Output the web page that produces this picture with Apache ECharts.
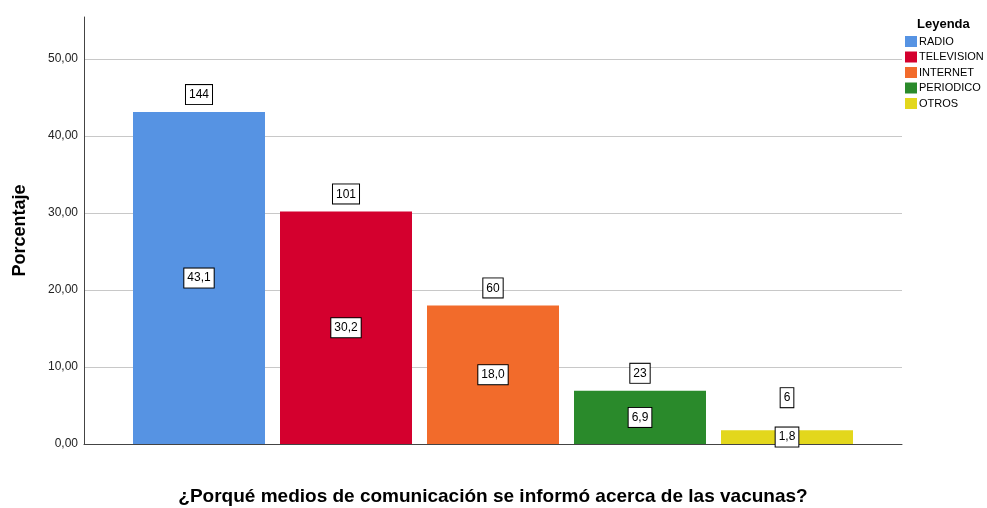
<!DOCTYPE html>
<html>
<head>
<meta charset="utf-8">
<script src="https://cdn.jsdelivr.net/npm/echarts@6/dist/echarts.min.js"></script>
<style>
html, body { margin: 0; padding: 0; background: #fff; }
#chart { width: 987px; height: 508px; }
</style>
</head>
<body>
<div id="chart"></div>
<script>
// datos
const categorias = ["RADIO", "TELEVISION", "INTERNET", "PERIODICO", "OTROS"];
const porcentajes = [43.1, 30.2, 18.0, 6.9, 1.8];
const conteos = [144, 101, 60, 23, 6];
const colores = ["#5693E3", "#D4002E", "#F26B2B", "#2A8A2B", "#E3D71C"];
const ticksY = [0, 10, 20, 30, 40, 50];

const FONT = "Liberation Sans, Arial, sans-serif";
const yMax = 55.45;

const cajaLabel = {
	show: true,
	color: "#000",
	fontFamily: FONT,
	fontSize: 12,
	backgroundColor: "#fff",
	borderColor: "#000",
	borderWidth: 1,
	padding: [4, 3, 3, 3]
};

const chart = echarts.init(document.getElementById("chart"), null, { renderer: "canvas" });

const seriesBarras = categorias.map((nombre, i) => ({
	name: nombre,
	type: "bar",
	xAxisIndex: 1,
	yAxisIndex: 1,
	stack: "total",
	barWidth: 132,
	itemStyle: { color: colores[i] },
	data: categorias.map((c, j) => (j === i ? porcentajes[i] : "-")),
	label: {
		...cajaLabel,
		position: "inside",
		formatter: p => p.value.toFixed(1).replace(".", ",")
	},
	emphasis: { disabled: true }
}));

// lineas de division: la ultima (en el maximo del eje) no se dibuja
const coloresGrid = ticksY.map(() => "#c8c8c8").concat(["rgba(0,0,0,0)"]);

const option = {
	animation: false,
	backgroundColor: "#fff",
	title: {
		text: "Leyenda",
		left: 917,
		top: 18,
		padding: 0,
		textStyle: { fontFamily: FONT, fontSize: 13, fontWeight: "bold", color: "#000" }
	},
	legend: {
		data: categorias,
		orient: "vertical",
		left: 905,
		top: 36,
		padding: 0,
		itemWidth: 12,
		itemHeight: 11,
		itemGap: 4.5,
		icon: "rect",
		textStyle: { fontFamily: FONT, fontSize: 11, color: "#000", padding: [0, 0, 0, -3] }
	},
	grid: [
		{ left: 84, right: 85, top: 17, bottom: 64, outerBoundsMode: "none", containLabel: false },
		{ left: 125.5, right: 126.5, top: 17, bottom: 64, outerBoundsMode: "none", containLabel: false }
	],
	xAxis: [
		{
			gridIndex: 0,
			type: "value",
			min: 0,
			max: 1,
			axisLine: { show: true, onZero: false, lineStyle: { color: "#444", width: 1 } },
			axisTick: { show: false },
			axisLabel: { show: false },
			splitLine: { show: false },
			name: "¿Porqué medios de comunicación se informó acerca de las vacunas?",
			nameLocation: "middle",
			nameGap: 43,
			nameTextStyle: { fontFamily: FONT, fontSize: 19, fontWeight: "bold", color: "#000" }
		},
		{
			gridIndex: 1,
			type: "category",
			data: categorias,
			show: false
		}
	],
	yAxis: [
		{
			gridIndex: 0,
			type: "value",
			min: 0,
			max: yMax,
			interval: 10,
			axisLine: { show: true, lineStyle: { color: "#444", width: 1 } },
			axisTick: { show: false },
			axisLabel: {
				fontFamily: FONT,
				fontSize: 12,
				color: "#222",
				margin: 6,
				padding: [3, 0, 0, 0],
				formatter: v => (ticksY.includes(v) ? v.toFixed(2).replace(".", ",") : "")
			},
			splitLine: { show: true, lineStyle: { color: coloresGrid, width: 1 } },
			name: "Porcentaje",
			nameLocation: "middle",
			nameGap: 55,
			nameTextStyle: { fontFamily: FONT, fontSize: 18, fontWeight: "bold", color: "#000" }
		},
		{
			gridIndex: 1,
			type: "value",
			min: 0,
			max: yMax,
			show: false
		}
	],
	series: [
		...seriesBarras,
		{
			name: "conteos",
			type: "scatter",
			xAxisIndex: 1,
			yAxisIndex: 1,
			symbolSize: 0,
			silent: true,
			itemStyle: { opacity: 1 },
			data: categorias.map((c, i) => ({
				value: [i, porcentajes[i]],
				label: { distance: i === categorias.length - 1 ? 23 : 8 }
			})),
			label: {
				...cajaLabel,
				position: "top",
				formatter: p => String(conteos[p.dataIndex])
			},
			z: 5
		}
	]
};

chart.setOption(option);
</script>
</body>
</html>
